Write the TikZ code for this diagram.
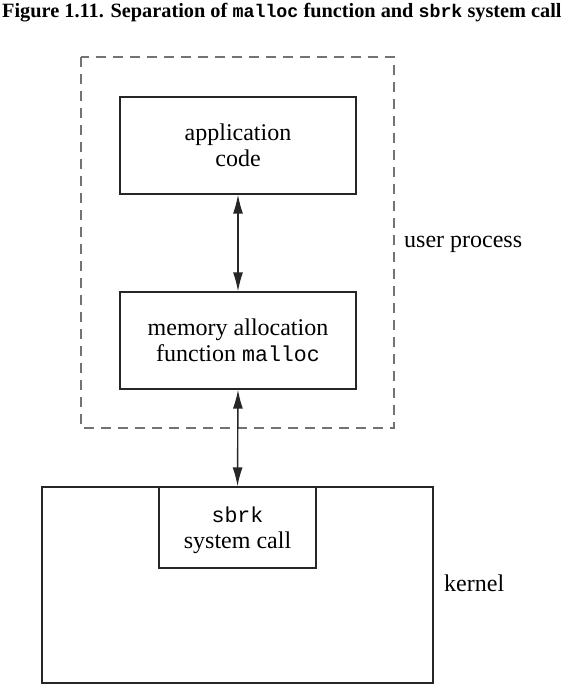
\documentclass[tikz,border=0pt]{standalone}
\usepackage{fontspec}
\setmainfont{Liberation Serif}
\setmonofont[Scale=0.9]{Liberation Mono}
\usetikzlibrary{arrows.meta}

\tikzset{
  box/.style={draw=black!85, line width=1.3pt, minimum width=236pt, minimum height=97pt, align=center, inner sep=0pt},
  link/.style={{Latex[length=19pt,width=10pt]}-{Latex[length=19pt,width=10pt]}, line width=1.4pt, black!85},
  lbl/.style={anchor=base west, inner sep=0pt}
}

\begin{document}
\begin{tikzpicture}[x=1pt, y=-1pt, font=\fontsize{24}{26}\selectfont]

        \useasboundingbox (0,0) rectangle (568,697);

        % title
        \node[lbl, font=\fontsize{20.3}{22}\selectfont\bfseries] (title) at (2,17)
          {Figure 1.11. Separation of \texttt{malloc} function and \texttt{sbrk} system call};

        % user process
        \draw[black!55, line width=1.3pt, dash pattern=on 10pt off 7pt] (81,57) rectangle (394,428);
        \node[lbl] (user) at (404,247) {user process};

        \node[box] (app) at (238,145.5) {application\\code};
        \node[box] (malloc) at (238,340.5) {memory allocation\\function \texttt{malloc}};

        % kernel
        \draw[black!85, line width=1.3pt] (42,487) rectangle (433,683);
        \node[box, minimum width=157pt, minimum height=81pt, text depth=0pt] (sbrk) at (237.5,527.5) {\texttt{sbrk}\\system call};
        \node[lbl] (kernel) at (444,591) {kernel};

        \draw[link] (app.south) -- (malloc.north);
        \draw[link] (malloc.south) -- (sbrk.north);

\end{tikzpicture}
\end{document}
